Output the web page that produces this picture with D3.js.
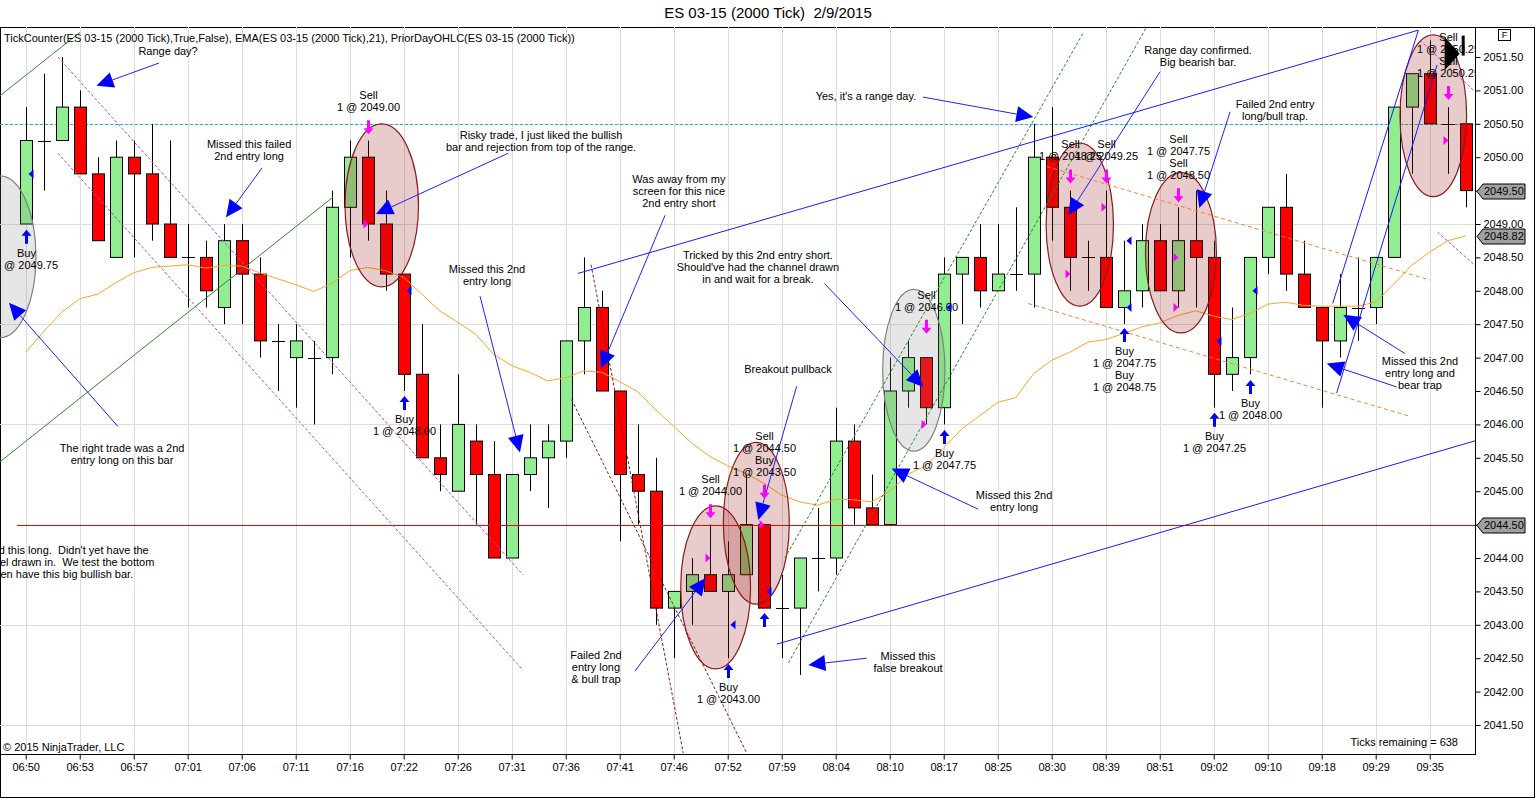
<!DOCTYPE html>
<html>
<head>
<meta charset="utf-8">
<script src="https://cdn.jsdelivr.net/npm/d3@7"></script>
<style>
  body { margin: 0; background: #fff; }
  text { font-family: "Liberation Sans", Arial, sans-serif; white-space: pre; }
</style>
</head>
<body>
<svg id="chart" width="1536" height="800"></svg>
<script>
// ---- data (2000 tick bars, ES 03-15, 2/9/2015) ----
const TIME_LABELS = ["06:50","06:53","06:57","07:01","07:06","07:11","07:16","07:22","07:26",
  "07:31","07:36","07:41","07:46","07:52","07:59","08:04","08:10","08:17","08:25","08:30",
  "08:39","08:51","09:02","09:10","09:18","09:29","09:35"]; // one label every 3 bars

const OPEN  = [2049.0,2050.25,2050.25,2050.75,2049.75,2048.5,2050.0,2049.75,2049.0,2048.5,
  2048.5,2047.75,2048.75,2048.25,2047.25,2047.0,2047.0,2047.0,2049.25,2050.0,
  2049.0,2048.25,2046.75,2045.5,2045.0,2045.75,2045.25,2044.0,2045.25,2045.5,
  2045.75,2047.25,2047.75,2046.5,2045.25,2045.0,2043.25,2043.5,2043.75,2043.5,
  2043.75,2044.5,2043.25,2043.25,2044.0,2044.0,2045.75,2044.75,2044.5,2046.5,
  2047.0,2046.25,2048.25,2048.5,2048.0,2048.25,2048.25,2050.0,2049.25,2048.5,
  2048.5,2047.75,2048.0,2048.75,2048.0,2048.75,2048.5,2046.75,2047.0,2048.5,
  2049.25,2048.25,2047.75,2047.25,2047.75,2047.75,2048.5,2050.75,2051.25,2050.5,2050.5];
const HIGH  = [2050.75,2051.25,2051.5,2051.0,2050.0,2050.25,2050.25,2050.5,2050.25,2049.0,
  2048.75,2049.0,2049.0,2048.5,2047.5,2047.5,2047.25,2049.5,2050.25,2050.25,
  2049.5,2048.25,2047.5,2046.0,2046.75,2046.0,2045.75,2045.25,2046.0,2046.0,
  2047.25,2048.5,2048.0,2046.5,2046.0,2045.5,2043.5,2044.0,2044.5,2044.25,
  2045.25,2044.5,2043.75,2044.0,2044.75,2046.25,2046.0,2045.25,2047.0,2047.25,
  2047.0,2048.5,2048.5,2049.0,2049.0,2049.25,2050.5,2050.75,2049.5,2048.75,
  2049.5,2048.75,2049.0,2049.0,2049.25,2049.5,2048.75,2047.75,2048.5,2049.25,
  2049.75,2048.75,2047.75,2048.25,2048.5,2048.5,2050.75,2051.25,2051.75,2050.75,2050.75];
const LOW   = [2049.0,2049.5,2050.25,2049.75,2048.75,2048.5,2048.5,2048.75,2048.5,2047.75,
  2047.75,2047.5,2047.5,2047.0,2046.5,2046.25,2046.0,2046.75,2048.5,2048.75,
  2048.0,2046.5,2045.5,2045.0,2045.0,2044.5,2044.0,2044.0,2045.0,2044.75,
  2045.5,2046.75,2046.5,2044.25,2044.5,2043.0,2042.5,2043.0,2043.5,2042.5,
  2043.75,2043.25,2042.5,2042.25,2043.5,2043.75,2044.5,2044.5,2044.5,2046.25,
  2046.0,2046.0,2047.5,2047.75,2048.0,2048.0,2047.75,2048.75,2048.0,2048.0,
  2047.75,2047.5,2047.75,2048.0,2047.75,2047.75,2046.25,2046.5,2046.75,2048.25,
  2048.0,2047.75,2046.25,2047.0,2047.25,2047.5,2048.5,2049.75,2050.5,2049.75,2049.25];
const CLOSE = [2050.25,2050.25,2050.75,2049.75,2048.75,2050.0,2049.75,2049.0,2048.5,2048.5,
  2048.0,2048.75,2048.25,2047.25,2047.25,2047.25,2047.0,2049.25,2050.0,2049.0,
  2048.25,2046.75,2045.5,2045.25,2046.0,2045.25,2044.0,2045.25,2045.5,2045.75,
  2047.25,2047.75,2046.5,2045.25,2045.0,2043.25,2043.5,2043.75,2043.5,2043.75,
  2044.5,2043.25,2043.25,2044.0,2044.0,2045.75,2044.75,2044.5,2046.5,2047.0,
  2046.25,2048.25,2048.5,2048.0,2048.25,2048.25,2050.0,2049.25,2048.5,2048.5,
  2047.75,2048.0,2048.75,2048.0,2048.75,2048.5,2046.75,2047.0,2048.5,2049.25,
  2048.25,2047.75,2047.25,2047.75,2047.75,2048.5,2050.75,2051.25,2050.5,2050.5,2049.5];
const EMA21 = [2047.08,2047.39,2047.68,2047.88,2047.95,2048.12,2048.27,2048.35,2048.37,2048.39,
  2048.34,2048.38,2048.37,2048.27,2048.18,2048.09,2047.99,2048.11,2048.3,2048.35,
  2048.3,2048.2,2047.95,2047.7,2047.53,2047.35,2047.05,2046.88,2046.78,2046.65,
  2046.7,2046.8,2046.78,2046.64,2046.49,2046.22,2045.97,2045.72,2045.52,2045.38,
  2045.27,2045.12,2044.94,2044.84,2044.79,2044.88,2044.87,2044.84,2045.0,2045.25,
  2045.38,2045.65,2045.93,2046.13,2046.33,2046.4,2046.76,2046.96,2047.08,2047.23,
  2047.27,2047.36,2047.46,2047.52,2047.63,2047.7,2047.62,2047.57,2047.66,2047.8,
  2047.83,2047.78,2047.77,2047.77,2047.77,2047.83,2048.1,2048.38,2048.58,2048.75,2048.82];

const PRICE_TICKS = d3.range(2041.5, 2051.51, 0.5);
const GRID_PRICES = [2041.5, 2043.0, 2044.5, 2046.0, 2047.5, 2049.0, 2050.5];
const PRIOR_LOW = 2044.5;      // red line
const PRIOR_CLOSE = 2050.5;    // cyan dashed line

// drawing objects, anchored on [bar index, price]
const TREND_LINES = [
  {a: [-1.43, 2045.44], b: [17.06, 2049.40], color: '#2f8a2f', dash: null},
  {a: [-1.43, 2050.92], b: [3.02, 2051.87], color: '#2f8a2f', dash: null},
  {a: [1.79, 2051.5], b: [27.63, 2043.75], color: '#a64be0', dash: '3,2'},
  {a: [1.79, 2050.06], b: [27.63, 2042.32], color: '#a64be0', dash: '3,2'},
  {a: [77.46, 2051.75], b: [80.6, 2050.96], color: '#a64be0', dash: '3,2'},
  {a: [78.43, 2048.88], b: [80.6, 2048.36], color: '#a64be0', dash: '3,2'},
  {a: [31.41, 2048.39], b: [36.53, 2041.08], color: '#8b1a1a', dash: '3,2'},
  {a: [30.33, 2046.37], b: [40.06, 2041.08], color: '#8b1a1a', dash: '3,2'},
  {a: [42.18, 2044.0], b: [58.77, 2051.87], color: '#1f8f1f', dash: '3,2'},
  {a: [42.37, 2042.43], b: [62.46, 2052.04], color: '#1f8f1f', dash: '3,2'},
  {a: [30.68, 2048.26], b: [77.35, 2051.9], color: '#1a1aff', dash: null},
  {a: [41.72, 2042.71], b: [80.6, 2045.76], color: '#1a1aff', dash: null},
  {a: [72.61, 2047.81], b: [77.37, 2051.9], color: '#1a1aff', dash: null},
  {a: [72.83, 2046.47], b: [78.41, 2051.38], color: '#1a1aff', dash: null},
  {a: [56.72, 2049.86], b: [78.02, 2048.16], color: '#f0843c', dash: '4,3'},
  {a: [55.7, 2047.81], b: [76.91, 2046.12], color: '#f0843c', dash: '4,3'}
];

// ellipses: centre [bar, price], radius in bars and in points
const ELLIPSES = [
  {c: [-1.43, 2048.51], rx: 2.0, ry: 1.21, grey: true},
  {c: [19.78, 2049.28], rx: 2.04, ry: 1.22},
  {c: [38.33, 2043.56], rx: 1.94, ry: 1.22},
  {c: [40.59, 2044.52], rx: 1.83, ry: 1.21},
  {c: [49.34, 2046.81], rx: 1.73, ry: 1.21, grey: true},
  {c: [58.56, 2048.99], rx: 1.87, ry: 1.22},
  {c: [64.18, 2048.57], rx: 1.97, ry: 1.2},
  {c: [78.2, 2050.62], rx: 1.85, ry: 1.21}
];

const NOTES = [
  {lines: ["Range day?"], at: [7.91, 2051.57], arrows: [[[7.41, 2051.41], [3.93, 2051.07]]]},
  {lines: ["Missed this failed", "2nd entry long"], at: [12.41, 2050.18], arrows: [[[13.13, 2049.84], [11.13, 2049.1]]]},
  {lines: ["Risky trade, I just liked the bullish", "bar and rejection from top of the range."], at: [28.63, 2050.32], arrows: [[[26.81, 2050.06], [19.46, 2049.15]]]},
  {lines: ["Was away from my", "screen for this nice", "2nd entry short"], at: [36.29, 2049.66], arrows: [[[35.52, 2049.13], [31.96, 2046.84]]]},
  {lines: ["Missed this 2nd", "entry long"], at: [25.63, 2048.31], arrows: [[[25.24, 2047.92], [27.46, 2045.58]]]},
  {lines: ["The right trade was a 2nd", "entry long on this bar"], at: [5.35, 2045.63], arrows: [[[5.12, 2045.97], [-0.93, 2047.82]]]},
  {lines: ["Tricked by this 2nd entry short.", "Should've had the channel drawn", "in and wait for a break."], at: [40.68, 2048.52], arrows: [[[44.37, 2048.11], [49.87, 2046.56]]]},
  {lines: ["Breakout pullback"], at: [42.35, 2046.81], arrows: [[[42.83, 2046.57], [40.7, 2044.57]]]},
  {lines: ["Failed 2nd", "entry long", "& bull trap"], at: [31.68, 2042.53], arrows: [[[33.85, 2042.31], [37.78, 2043.7]]]},
  {lines: ["Missed this", "false breakout"], at: [49.02, 2042.52], arrows: [[[46.72, 2042.5], [43.48, 2042.4]]]},
  {lines: ["Missed this 2nd", "entry long"], at: [54.91, 2044.93], arrows: [[[52.92, 2044.73], [48.11, 2045.34]]]},
  {lines: ["Yes, it's a range day."], at: [46.68, 2050.9], arrows: [[[49.85, 2050.9], [55.98, 2050.6]]]},
  {lines: ["Range day confirmed.", "Big bearish bar."], at: [65.13, 2051.59], arrows: [[[63.02, 2051.28], [57.92, 2049.13]]]},
  {lines: ["Failed 2nd entry", "long/bull trap."], at: [69.41, 2050.78], arrows: [[[66.91, 2050.68], [65.2, 2049.24]]]},
  {lines: ["Missed this 2nd", "entry long and", "bear trap"], at: [77.46, 2046.93],
    arrows: [[[76.63, 2047.06], [73.2, 2047.64]], [[76.17, 2046.56], [72.28, 2046.91]]]}
];
const LEFT_NOTE = ["Missed this long.  Didn't yet have the", "channel drawn in.  We test the bottom", "and then have this big bullish bar."];

// executions: bar, side, arrow price, label lines, fill prices
const TRADES = [
  {i: 0, side: 'buy', p: 2048.81, labels: ["Buy", "1 @ 2049.75"], fills: [2049.75]},
  {i: 19, side: 'sell', p: 2050.45, labels: ["Sell", "1 @ 2049.00"], fills: [2049.0]},
  {i: 21, side: 'buy', p: 2046.32, labels: ["Buy", "1 @ 2048.00"], fills: [2048.0]},
  {i: 38, side: 'sell', p: 2044.7, labels: ["Sell", "1 @ 2044.00"], fills: [2044.0]},
  {i: 39, side: 'buy', p: 2042.31, labels: ["Buy", "1 @ 2043.00"], fills: [2043.0]},
  {i: 41, side: 'sell', p: 2044.99, labels: ["Sell", "1 @ 2044.50", "Buy", "1 @ 2043.50"], fills: [2044.5]},
  {i: 41, side: 'buy', p: 2043.07, labels: [], fills: [2043.5]},
  {i: 50, side: 'sell', p: 2047.46, labels: ["Sell", "1 @ 2046.00"], fills: [2046.0]},
  {i: 51, side: 'buy', p: 2045.81, labels: ["Buy", "1 @ 2047.75"], fills: [2047.75]},
  {i: 58, side: 'sell', p: 2049.71, labels: ["Sell", "1 @ 2048.25"], fills: [2048.25]},
  {i: 60, side: 'sell', p: 2049.71, labels: ["Sell", "1 @ 2049.25"], fills: [2049.25]},
  {i: 61, side: 'buy', p: 2047.34, labels: ["Buy", "1 @ 2047.75", "Buy", "1 @ 2048.75"], fills: [2047.75, 2048.75]},
  {i: 64, side: 'sell', p: 2049.43, labels: ["Sell", "1 @ 2047.75", "Sell", "1 @ 2048.50"], fills: [2047.75, 2048.5]},
  {i: 66, side: 'buy', p: 2046.07, labels: ["Buy", "1 @ 2047.25"], fills: [2047.25]},
  {i: 68, side: 'buy', p: 2046.56, labels: ["Buy", "1 @ 2048.00"], fills: [2048.0]},
  {i: 79, side: 'sell', p: 2050.96, labels: ["Sell", "1 @ 2050.25", "Sell", "1 @ 2050.25"], fills: [2050.25]}
];

const bars = OPEN.map((o, i) => ({i, o, h: HIGH[i], l: LOW[i], c: CLOSE[i]}));

// ---- layout ----
const W = 1536, H = 800;
const PLOT = {left: 0, top: 27, right: 1475, bottom: 754};

const svg = d3.select('#chart');
const x = d3.scaleLinear().domain([0, 80]).range([25.7, 1465.7]);
const y = d3.scaleLinear().domain([2041.5, 2051.5]).range([725, 57]);
const px = v => Math.round(x(v)) + 0.5;
const py = v => Math.round(y(v)) + 0.5;

svg.append('defs').append('clipPath').attr('id', 'plotclip')
  .append('rect')
  .attr('x', PLOT.left).attr('y', PLOT.top)
  .attr('width', PLOT.right - PLOT.left).attr('height', PLOT.bottom - PLOT.top);

// title
svg.append('text').attr('x', W / 2).attr('y', 14)
  .attr('text-anchor', 'middle').attr('dominant-baseline', 'middle')
  .style('font-size', '15px').text('ES 03-15 (2000 Tick)  2/9/2015');

// outer frame and plot frame
svg.append('rect').attr('x', 0.5).attr('y', 27.5).attr('width', 1534).attr('height', 770)
  .attr('fill', 'none').attr('stroke', '#000');
svg.append('rect').attr('x', 0.5).attr('y', 27.5).attr('width', PLOT.right).attr('height', PLOT.bottom - 27)
  .attr('fill', 'none').attr('stroke', '#000');

const plot = svg.append('g').attr('clip-path', 'url(#plotclip)');

// grid
plot.selectAll('.vgrid').data(TIME_LABELS).enter().append('line')
  .attr('x1', (d, k) => px(k * 3)).attr('x2', (d, k) => px(k * 3))
  .attr('y1', PLOT.top).attr('y2', PLOT.bottom)
  .attr('stroke', '#dcdcdc');
plot.selectAll('.hgrid').data(GRID_PRICES.filter(v => v !== PRIOR_LOW)).enter().append('line')
  .attr('x1', PLOT.left).attr('x2', PLOT.right)
  .attr('y1', d => py(d)).attr('y2', d => py(d))
  .attr('stroke', '#dcdcdc');

// prior day close
plot.append('line').attr('x1', PLOT.left).attr('x2', PLOT.right)
  .attr('y1', py(PRIOR_CLOSE)).attr('y2', py(PRIOR_CLOSE))
  .attr('stroke', '#1fb8c8').attr('stroke-dasharray', '3,2');

// candles
const candle = plot.selectAll('.bar').data(bars).enter().append('g').attr('class', 'bar');
candle.append('line')
  .attr('x1', d => px(d.i)).attr('x2', d => px(d.i))
  .attr('y1', d => y(d.h)).attr('y2', d => y(d.l))
  .attr('stroke', '#000');
candle.filter(d => d.o !== d.c).append('rect')
  .attr('x', d => Math.round(x(d.i)) - 5.5)
  .attr('y', d => y(Math.max(d.o, d.c)))
  .attr('width', 12)
  .attr('height', d => y(Math.min(d.o, d.c)) - y(Math.max(d.o, d.c)))
  .attr('fill', d => d.c > d.o ? '#90ee90' : '#ff0000')
  .attr('stroke', '#000');
candle.filter(d => d.o === d.c).append('line')
  .attr('x1', d => Math.round(x(d.i)) - 6).attr('x2', d => Math.round(x(d.i)) + 7)
  .attr('y1', d => py(d.c)).attr('y2', d => py(d.c))
  .attr('stroke', '#000');

// prior day low, drawn over the bars as in the platform
plot.append('line').attr('x1', x(-0.48)).attr('x2', PLOT.right)
  .attr('y1', py(PRIOR_LOW)).attr('y2', py(PRIOR_LOW))
  .attr('stroke', '#ff0000').attr('shape-rendering', 'crispEdges');

// EMA
plot.append('path').datum(EMA21)
  .attr('d', d3.line().x((d, i) => x(i)).y(d => y(d)))
  .attr('fill', 'none').attr('stroke', '#ffa520').attr('stroke-width', 1);

// ellipses
plot.selectAll('.ell').data(ELLIPSES).enter().append('ellipse')
  .attr('cx', d => x(d.c[0])).attr('cy', d => y(d.c[1]))
  .attr('rx', d => x(d.rx) - x(0)).attr('ry', d => y(0) - y(d.ry))
  .attr('fill', d => d.grey ? 'rgba(128,128,128,0.2)' : 'rgba(150,20,20,0.22)')
  .attr('stroke', d => d.grey ? '#808080' : '#8b1a1a')
  .attr('stroke-width', 1.2);

// trend lines
plot.selectAll('.trend').data(TREND_LINES).enter().append('line')
  .attr('x1', d => x(d.a[0])).attr('y1', d => y(d.a[1]))
  .attr('x2', d => x(d.b[0])).attr('y2', d => y(d.b[1]))
  .attr('stroke', d => d.color)
  .attr('stroke-dasharray', d => d.dash)
  .attr('stroke-width', 1);

// annotation arrows
function arrow(g, from, to) {
  const x1 = x(from[0]), y1 = y(from[1]), x2 = x(to[0]), y2 = y(to[1]);
  const ang = Math.atan2(y2 - y1, x2 - x1);
  const L = 17, Wd = 8;
  const bx = x2 - L * Math.cos(ang), by = y2 - L * Math.sin(ang);
  g.append('line').attr('x1', x1).attr('y1', y1).attr('x2', bx).attr('y2', by)
    .attr('stroke', '#2020ff').attr('stroke-width', 1);
  g.append('path')
    .attr('d', `M${x2},${y2}L${bx + Wd * Math.sin(ang)},${by - Wd * Math.cos(ang)}L${bx - Wd * Math.sin(ang)},${by + Wd * Math.cos(ang)}Z`)
    .attr('fill', '#0000ff');
}

const notes = plot.append('g');
NOTES.forEach(n => {
  n.arrows.forEach(a => arrow(notes, a[0], a[1]));
  notes.append('text')
    .attr('x', x(n.at[0])).attr('y', y(n.at[1]))
    .attr('text-anchor', 'middle').attr('dominant-baseline', 'middle')
    .style('font-size', '11px')
    .selectAll('tspan').data(n.lines).enter().append('tspan')
    .attr('x', x(n.at[0])).attr('dy', (d, k) => k === 0 ? 0 : 12)
    .text(d => d);
});
notes.append('text')
  .attr('x', x(-3.1)).attr('y', y(2044.1))
  .attr('dominant-baseline', 'middle').style('font-size', '11px')
  .selectAll('tspan').data(LEFT_NOTE).enter().append('tspan')
  .attr('x', x(-3.1)).attr('dy', (d, k) => k === 0 ? 0 : 12)
  .text(d => d);

// executions
const trades = plot.append('g');
TRADES.forEach(t => {
  const cx = Math.round(x(t.i)) + 0.5, cy = y(t.p);
  const up = 'M0,-7L5,-1L1.5,-1L1.5,7L-1.5,7L-1.5,-1L-5,-1Z';
  const down = 'M0,7L5,1L1.5,1L1.5,-7L-1.5,-7L-1.5,1L-5,1Z';
  trades.append('path').attr('d', t.side === 'buy' ? up : down)
    .attr('transform', `translate(${cx},${cy})`)
    .attr('fill', t.side === 'buy' ? '#0000ff' : '#ff00ff');
  const n = t.labels.length;
  trades.selectAll(null).data(t.labels).enter().append('text')
    .attr('x', cx)
    .attr('y', (d, k) => t.side === 'buy' ? cy + 17 + 12 * k : cy - 19 - 12 * (n - 1 - k))
    .attr('text-anchor', 'middle').attr('dominant-baseline', 'middle')
    .style('font-size', '11px').text(d => d);
  t.fills.forEach(f => {
    const fy = y(f);
    if (t.side === 'buy') {
      trades.append('path').attr('d', `M${cx + 2},${fy}L${cx + 7},${fy - 4.5}L${cx + 7},${fy + 4.5}Z`).attr('fill', '#0000ff');
    } else {
      trades.append('path').attr('d', `M${cx},${fy}L${cx - 5},${fy - 4.5}L${cx - 5},${fy + 4.5}Z`).attr('fill', '#ff00ff');
    }
  });
});

// current bar marker
plot.append('path').attr('d', `M${x(80) - 21},${y(2051.8)}L${x(80) - 6},${y(2051.55)}L${x(80) - 21},${y(2051.3)}Z`).attr('fill', '#000');
plot.append('rect').attr('x', x(80) - 4).attr('y', y(2051.82)).attr('width', 3).attr('height', 20).attr('fill', '#000');

// header, footer texts
svg.append('text').attr('x', 4).attr('y', 39).attr('dominant-baseline', 'middle')
  .style('font-size', '11px')
  .text('TickCounter(ES 03-15 (2000 Tick),True,False), EMA(ES 03-15 (2000 Tick),21), PriorDayOHLC(ES 03-15 (2000 Tick))');
svg.append('text').attr('x', 3).attr('y', 748).attr('dominant-baseline', 'middle')
  .style('font-size', '11px').text('\u00a9 2015 NinjaTrader, LLC');
svg.append('text').attr('x', 1458).attr('y', 743).attr('text-anchor', 'end').attr('dominant-baseline', 'middle')
  .style('font-size', '11px').text('Ticks remaining = 638');

// axes
const yAxis = svg.append('g').attr('transform', `translate(${PLOT.right + 0.5},0)`)
  .call(d3.axisRight(y).tickValues(PRICE_TICKS).tickFormat(d3.format('.2f')).tickSize(5).tickPadding(3));
yAxis.select('.domain').remove();
yAxis.selectAll('text').style('font-size', '11px').style('font-family', '"Liberation Sans", Arial, sans-serif');

const xAxis = svg.append('g').attr('transform', `translate(0,${PLOT.bottom + 0.5})`)
  .call(d3.axisBottom(x).tickValues(TIME_LABELS.map((d, k) => k * 3))
    .tickFormat((d, k) => TIME_LABELS[k]).tickSize(5).tickPadding(4));
xAxis.select('.domain').remove();
xAxis.selectAll('text').style('font-size', '11px').style('font-family', '"Liberation Sans", Arial, sans-serif');

// price markers on the axis
const MARKERS = [CLOSE[CLOSE.length - 1], EMA21[EMA21.length - 1], PRIOR_LOW];
MARKERS.forEach(v => {
  const my = Math.round(y(v)) + 0.5;
  svg.append('path')
    .attr('d', `M${PLOT.right + 2},${my}L${PLOT.right + 8},${my - 7.5}L${PLOT.right + 50},${my - 7.5}L${PLOT.right + 50},${my + 7.5}L${PLOT.right + 8},${my + 7.5}Z`)
    .attr('fill', '#a0a0a0').attr('stroke', '#000');
  svg.append('text').attr('x', PLOT.right + 9).attr('y', my + 0.5).attr('dominant-baseline', 'middle')
    .style('font-size', '11px').text(d3.format('.2f')(v));
});

// "F" box
svg.append('rect').attr('x', 1498.5).attr('y', 29.5).attr('width', 12).attr('height', 11)
  .attr('fill', '#fff').attr('stroke', '#000');
svg.append('text').attr('x', 1504.5).attr('y', 35.5).attr('text-anchor', 'middle').attr('dominant-baseline', 'middle')
  .style('font-size', '9px').text('F');
</script>
</body>
</html>
